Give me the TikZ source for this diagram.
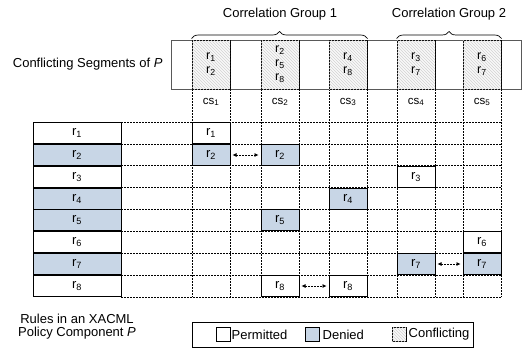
\documentclass[tikz,border=0pt]{standalone}
\usepackage{fontspec}
\setmainfont{Liberation Sans}
\usetikzlibrary{patterns,decorations.pathreplacing,arrows.meta}
\definecolor{denyblue}{RGB}{200,214,230}

\begin{document}
\begin{tikzpicture}[x=1pt, y=-1pt,
    rulebox/.style ={draw, line width=1pt, fill=white, minimum width=88pt, minimum height=21.9pt, inner sep=0pt, font=\fontsize{13}{15}\selectfont},
    cell/.style ={draw, line width=1pt, fill=white, minimum width=38pt, minimum height=21.9pt, inner sep=0pt, font=\fontsize{13}{15}\selectfont},
    denied/.style ={fill=denyblue},
    hatch/.style ={fill=gray!5, postaction={pattern=north west lines, pattern color=gray!35}},
    segment/.style ={draw, line width=1pt, hatch, minimum width=38pt, minimum height=49pt, inner sep=0pt, align=center, font=\fontsize{12.5}{14}\selectfont},
    gridline/.style ={dash pattern=on 2pt off 1pt, line width=0.6pt},
    link/.style ={{Latex[length=4pt,width=4pt]}-{Latex[length=4pt,width=4pt]}, dash pattern=on 2pt off 1pt, line width=0.6pt, shorten <=2pt, shorten >=2pt},
    label/.style ={font=\fontsize{13}{15}\selectfont, align=center}]
   \useasboundingbox (0,0) rectangle (526,348);

   % dashed grid
   \foreach \y in {0,...,8}
      \draw[gridline] (121,122+\y*21.875) -- (501,122+\y*21.875);
   \foreach \x in {192,230,261,299,329,367,397,435,463,501}
      \draw[gridline] (\x,89) -- (\x,297);

   % bar of conflicting segments
   \draw[gray!70!black, line width=0.7pt] (171,40) rectangle (521,89);
   \node[segment] (S1) at (211,64.5) {r\textsubscript{1}\\r\textsubscript{2}};
   \node[segment] (S2) at (280,64.5) {r\textsubscript{2}\\r\textsubscript{5}\\r\textsubscript{8}};
   \node[segment] (S3) at (348,64.5) {r\textsubscript{4}\\r\textsubscript{8}};
   \node[segment] (S4) at (416,64.5) {r\textsubscript{3}\\r\textsubscript{7}};
   \node[segment] (S5) at (482,64.5) {r\textsubscript{6}\\r\textsubscript{7}};
   \foreach \n/\x in {1/211,2/280,3/348,4/416,5/482}
      \node[font=\fontsize{11.5}{13}\selectfont] (CS\n) at (\x,102) {cs\textsubscript{\n}};

   % correlation groups
   \draw[decorate, decoration={brace, amplitude=7pt, raise=1pt}, line width=0.7pt] (S1.north west) -- (S3.north east);
   \draw[decorate, decoration={brace, amplitude=7pt, raise=1pt}, line width=0.7pt] (S4.north west) -- (S5.north east);
   \node[label] (G1) at (280,14) {Correlation Group 1};
   \node[label] (G2) at (449,14) {Correlation Group 2};
   \node[label, anchor=east] (CSP) at (166,64) {Conflicting Segments of \textit{P}};

   % rules of P
   \node[rulebox] (R1) at (77,133) {r\textsubscript{1}};
   \node[rulebox, denied] (R2) at (77,155) {r\textsubscript{2}};
   \node[rulebox] (R3) at (77,177) {r\textsubscript{3}};
   \node[rulebox, denied] (R4) at (77,199) {r\textsubscript{4}};
   \node[rulebox, denied] (R5) at (77,220) {r\textsubscript{5}};
   \node[rulebox] (R6) at (77,242) {r\textsubscript{6}};
   \node[rulebox, denied] (R7) at (77,264) {r\textsubscript{7}};
   \node[rulebox] (R8) at (77,286) {r\textsubscript{8}};
   \node[label] (RP) at (77,327) {Rules in an XACML\\[-2pt]Policy Component \textit{P}};

   % rules in segments
   \node[cell] (C11) at (211,133) {r\textsubscript{1}};
   \node[cell, denied] (C21) at (211,155) {r\textsubscript{2}};
   \node[cell, denied] (C22) at (280,155) {r\textsubscript{2}};
   \node[cell] (C34) at (416,177) {r\textsubscript{3}};
   \node[cell, denied] (C43) at (348,199) {r\textsubscript{4}};
   \node[cell, denied] (C52) at (280,220) {r\textsubscript{5}};
   \node[cell] (C65) at (482,242) {r\textsubscript{6}};
   \node[cell, denied] (C74) at (416,264) {r\textsubscript{7}};
   \node[cell, denied] (C75) at (482,264) {r\textsubscript{7}};
   \node[cell] (C82) at (280,286) {r\textsubscript{8}};
   \node[cell] (C83) at (348,286) {r\textsubscript{8}};

   \draw[link] (C21) to (C22);
   \draw[link] (C74) to (C75);
   \draw[link] (C82) to (C83);

   % legend
   \node[draw, line width=0.8pt, minimum width=281pt, minimum height=25pt, inner sep=0pt] (L) at (332.5,334.5) {};
   \node[draw, line width=1pt, fill=white, minimum size=14pt, inner sep=0pt] (LP) at (223,334.5) {};
   \node[draw, line width=1pt, denied, minimum size=14pt, inner sep=0pt] (LD) at (312,334.5) {};
   \node[draw, line width=1pt, hatch, minimum size=14pt, inner sep=0pt] (LC) at (399,334.5) {};
   \node[label, anchor=west, inner sep=1pt] at (LP.east) {Permitted};
   \node[label, anchor=west, inner sep=3pt] at (LD.east) {Denied};
   \node[label, anchor=west, inner sep=2pt] at (LC.east) {Conflicting};

 \end{tikzpicture}
\end{document}
